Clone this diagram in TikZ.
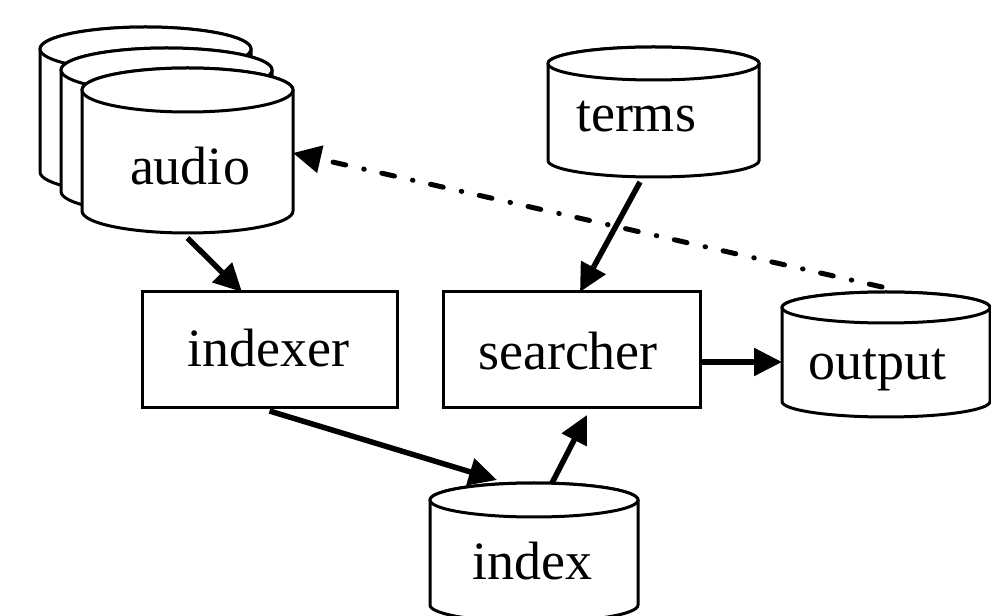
\documentclass[tikz,border=0pt]{standalone}
\usepackage{fontspec}
\setmainfont{Liberation Serif}
\usetikzlibrary{arrows.meta}
\tikzset{
  cylline/.style={line width=3pt, fill=white, draw=black},
  boxnode/.style={draw=none, inner sep=0pt, outer sep=0pt},
  procbox/.style={draw=black, line width=3pt, fill=white, inner sep=0pt, outer sep=0pt, anchor=north west},
  lbl/.style={inner sep=0pt, anchor=base, font=\fontsize{54}{60}\selectfont},
  flow/.style={line width=5.5pt, -{Triangle[length=28pt,width=27pt]}},
  feedback/.style={line width=5pt, line cap=round, dash pattern=on 13pt off 18pt on 0.5pt off 18.5pt, -{Triangle[length=28pt,width=27pt]}}
}
% name, x1, top, x2, bottom, ry   (screen pixel coordinates, y downward)
\newcommand\dbcyl[6]{%
  \pgfmathsetmacro\cxA{(#2+#4)/2}%
  \pgfmathsetmacro\rxA{(#4-#2)/2}%
  \pgfmathsetmacro\wA{#4-#2}%
  \pgfmathsetmacro\hA{#5-#3}%
  \pgfmathsetmacro\ytA{616-#3-#6}%
  \pgfmathsetmacro\ybA{616-#5+#6}%
  \pgfmathsetmacro\cyA{616-(#3+#5)/2}%
  \filldraw[cylline] (#2,\ytA) -- (#2,\ybA) arc[start angle=180,end angle=360,x radius=\rxA pt,y radius=#6 pt] -- (#4,\ytA) arc[start angle=0,end angle=180,x radius=\rxA pt,y radius=#6 pt] -- cycle;
  \draw[cylline] (\cxA,\ytA) ellipse[x radius=\rxA pt,y radius=#6 pt];
  \node[boxnode, minimum width=\wA pt, minimum height=\hA pt] (#1) at (\cxA,\cyA) {};
}
\begin{document}
\begin{tikzpicture}[x=1pt,y=1pt]
\useasboundingbox (0,0) rectangle (991,616);
\clip (0,0) rectangle (991,616);
% audio stack
\dbcyl{audio3}{40}{27}{251}{194}{22}
\dbcyl{audio2}{61}{48}{272}{213.5}{22}
\dbcyl{audio}{82}{68}{293}{233}{22}
\node[lbl] (audiot) at (190,{616-185}) {audio};
% terms
\dbcyl{terms}{548}{47}{759}{177}{16.5}
\node[lbl] (termst) at (636,{616-132}) {terms};
% indexer
\node[procbox, minimum width=255pt, minimum height=116pt] (indexer) at (142,{616-292}) {};
\node[lbl] (indexert) at (268,{616-367}) {indexer};
% searcher
\node[procbox, minimum width=257pt, minimum height=116pt] (searcher) at (443,{616-292}) {};
\node[lbl] (searchert) at (568,{616-370}) {searcher};
% output
\dbcyl{output}{782}{292}{990}{417}{15.5}
\node[lbl] (outputt) at (877,{616-380}) {output};
% index
\dbcyl{index}{430}{483}{638}{622}{17}
\node[lbl] (indext) at (532,{616-580}) {index};
% connectors
\draw[flow] ([yshift=-5pt]audio.south) -- ([xshift=-27.5pt]indexer.north);
\draw[flow] ([yshift=-3pt]indexer.south) -- ([xshift=-37pt,yshift=3pt]index.north);
\draw[flow] ([xshift=18pt]index.north) -- ([xshift=15.5pt,yshift=-7pt]searcher.south);
\draw[flow] ([xshift=-13.5pt,yshift=-5pt]terms.south) -- ([xshift=8.5pt]searcher.north);
\draw[flow] ([yshift=-12pt]searcher.east) -- ([yshift=-7.5pt]output.west);
\draw[feedback] ([xshift=-4pt,yshift=5pt]output.north) -- ([yshift=-2.5pt]audio.east);
\end{tikzpicture}
\end{document}
